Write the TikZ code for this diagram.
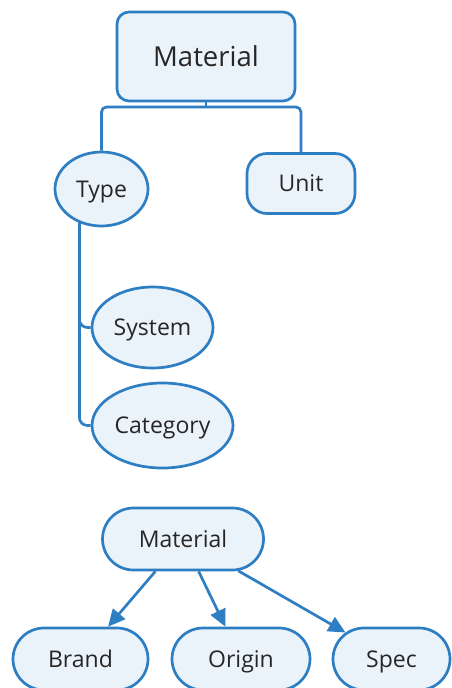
\documentclass[tikz,border=0pt]{standalone}
\usepackage{fontspec}
\setmainfont{Open Sans}
\usetikzlibrary{shapes.geometric,shapes.misc,arrows.meta}
\definecolor{edgeblue}{RGB}{46,126,195}
\definecolor{paleblue}{RGB}{234,242,250}
\tikzset{
	box/.style={draw=edgeblue, fill=paleblue, line width=2.7pt, text=black!85, inner sep=0pt, text height=16.4pt, text depth=0pt, font=\fontsize{23}{27}\selectfont},
	oval/.style={box, ellipse},
	pill/.style={box, rounded rectangle},
	link/.style={draw=edgeblue, line width=2.7pt},
	tip/.style={-{Triangle[length=17pt,width=16pt]}},
}
\begin{document}
\begin{tikzpicture}[x=1pt,y=-1pt]
	\useasboundingbox (0,0) rectangle (451,688);
	% upper tree
	\node[box, rounded corners=12, minimum width=178, minimum height=89, text height=19.6pt, font=\fontsize{27.5}{32}\selectfont] (mat) at (206,56.5) {Material};
	\node[oval, minimum width=93, minimum height=74] (type) at (101.5,189) {Type};
	\node[box, rounded corners=20, minimum width=108, minimum height=60] (unit) at (301,183.5) {Unit};
	\node[oval, minimum width=121, minimum height=81] (sys) at (152.5,327.5) {System};
	\node[oval, minimum width=141, minimum height=85] (cat) at (162.5,425.5) {Category};
	\coordinate (split) at (206,107);

	\draw[link] (mat.south) -- (split);
	\draw[link, rounded corners=5] (type.north) |- (split) -| (unit.north);
	\draw[link, rounded corners=8] (type.237) |- (sys.west);
	\draw[link, rounded corners=8] (type.237) |- (cat.west);

	% lower tree
	\node[pill, minimum width=161, minimum height=62] (mat2) at (183,539) {Material};
	\node[pill, minimum width=135, minimum height=62] (brand) at (80.5,659) {Brand};
	\node[pill, minimum width=138, minimum height=62] (orig) at (241,659) {Origin};
	\node[pill, minimum width=117, minimum height=62] (spec) at (391.5,659) {Spec};

	\draw[link, tip] (mat2) -- (brand);
	\draw[link, tip] (mat2) -- (orig);
	\draw[link, tip] (mat2) -- (spec);
\end{tikzpicture}
\end{document}
